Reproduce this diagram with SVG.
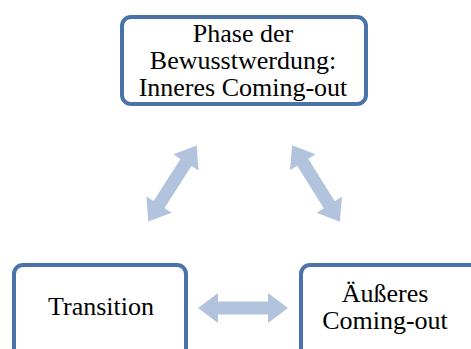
<svg xmlns="http://www.w3.org/2000/svg" width="471" height="349" viewBox="0 0 471 349">
<style>
.box{fill:#fff;stroke:#4a73aa;stroke-width:4}
.arr{fill:#b1c3dd}
text{font-family:"Liberation Serif","Times New Roman",serif;font-size:26px;fill:#000;text-anchor:middle}
</style>
<defs>
<path id="dbl" d="M -45,0 L -25,-15 L -25,-6.5 L 25,-6.5 L 25,-15 L 45,0 L 25,15 L 25,6.5 L -25,6.5 L -25,15 Z"/>
</defs>
<rect width="471" height="349" fill="#fff"/>
<g id="connectors">
<use href="#dbl" class="arr" transform="translate(243,308)"/>
<use href="#dbl" class="arr" transform="translate(172.5,183.5) rotate(-57.5)"/>
<use href="#dbl" class="arr" transform="translate(316,183.5) rotate(58)"/>
</g>
<g id="node-top">
<rect class="box" x="122" y="17" width="244" height="87" rx="9"/>
<text x="243" y="42">Phase der</text>
<text x="243" y="69">Bewusstwerdung:</text>
<text x="243" y="96">Inneres Coming-out</text>
</g>
<g id="node-transition">
<rect class="box" x="14" y="265" width="172" height="100" rx="9"/>
<text x="101" y="315">Transition</text>
</g>
<g id="node-aeusseres">
<rect class="box" x="301" y="265" width="185" height="100" rx="9"/>
<text x="385" y="302">Äußeres</text>
<text x="385" y="329">Coming-out</text>
</g>
</svg>
